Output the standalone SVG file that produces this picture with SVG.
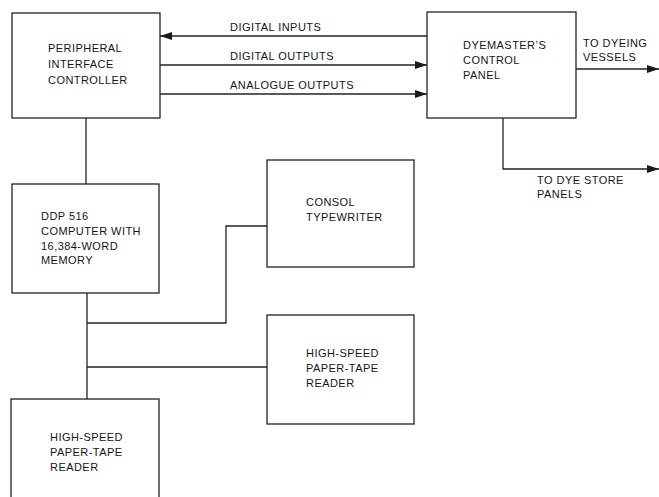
<svg xmlns="http://www.w3.org/2000/svg" width="659" height="497" viewBox="0 0 659 497">
<style>
.box{fill:none;stroke:#222;stroke-width:1.3}
.ln{fill:none;stroke:#222;stroke-width:1.3}
text{font-family:"Liberation Sans",Arial,sans-serif;font-size:11px;fill:#151515;letter-spacing:0.45px}
</style>
<defs>
<marker id="ah" viewBox="0 0 12 8" refX="12" refY="4" markerWidth="12" markerHeight="8" markerUnits="userSpaceOnUse" orient="auto">
<path d="M0,0 L12,4 L0,8 Z" fill="#1a1a1a"/>
</marker>
</defs>
<rect width="659" height="497" fill="#fff"/>
<g id="connectors">
<line class="ln" x1="427" y1="36" x2="160" y2="36" marker-end="url(#ah)"/>
<line class="ln" x1="160" y1="65" x2="427" y2="65" marker-end="url(#ah)"/>
<line class="ln" x1="160" y1="94" x2="427" y2="94" marker-end="url(#ah)"/>
<line class="ln" x1="576" y1="69" x2="659" y2="69" marker-end="url(#ah)"/>
<polyline class="ln" points="503,118 503,169 659,169" marker-end="url(#ah)"/>
<line class="ln" x1="86" y1="118" x2="86" y2="184"/>
<line class="ln" x1="87" y1="293" x2="87" y2="399"/>
<polyline class="ln" points="87,323 226,323 226,226 267,226"/>
<line class="ln" x1="87" y1="367" x2="267" y2="367"/>
<text x="230" y="31">DIGITAL INPUTS</text>
<text x="230" y="60">DIGITAL OUTPUTS</text>
<text x="230" y="89">ANALOGUE OUTPUTS</text>
<text x="583" y="47">TO DYEING</text>
<text x="583" y="61">VESSELS</text>
<text x="537" y="184">TO DYE STORE</text>
<text x="537" y="198">PANELS</text>
</g>
<g id="pic">
<rect class="box" x="12" y="13" width="148" height="105"/>
<text x="48" y="52">PERIPHERAL</text>
<text x="48" y="68">INTERFACE</text>
<text x="48" y="84">CONTROLLER</text>
</g>
<g id="dyemaster">
<rect class="box" x="427" y="12" width="149" height="106"/>
<text x="463" y="49">DYEMASTER’S</text>
<text x="463" y="64">CONTROL</text>
<text x="463" y="79">PANEL</text>
</g>
<g id="ddp">
<rect class="box" x="12" y="184" width="147" height="109"/>
<text x="41" y="220">DDP 516</text>
<text x="41" y="235">COMPUTER WITH</text>
<text x="41" y="250">16,384-WORD</text>
<text x="41" y="264">MEMORY</text>
</g>
<g id="console">
<rect class="box" x="267" y="160" width="147" height="107"/>
<text x="306" y="206">CONSOL</text>
<text x="306" y="221">TYPEWRITER</text>
</g>
<g id="reader1">
<rect class="box" x="267" y="315" width="147" height="109"/>
<text x="306" y="357">HIGH-SPEED</text>
<text x="306" y="372">PAPER-TAPE</text>
<text x="306" y="387">READER</text>
</g>
<g id="reader2">
<rect class="box" x="11" y="399" width="148" height="115"/>
<text x="50" y="441">HIGH-SPEED</text>
<text x="50" y="456">PAPER-TAPE</text>
<text x="50" y="471">READER</text>
</g>
</svg>
